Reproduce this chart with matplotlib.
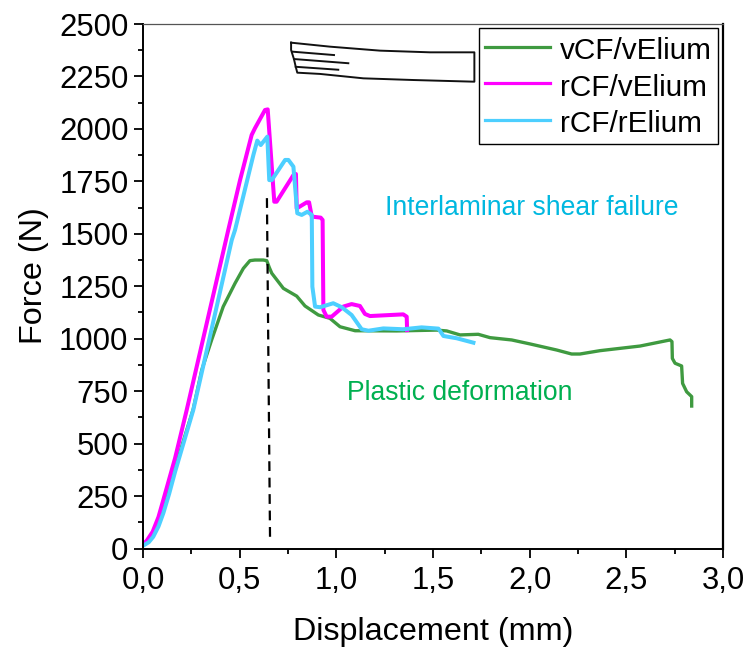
import matplotlib
matplotlib.use('Agg')
import matplotlib.pyplot as plt
from matplotlib.ticker import MultipleLocator, FuncFormatter

plt.rcParams['font.family'] = ['Liberation Sans', 'DejaVu Sans']

# curvas: deslocamento (mm) e força (N)
v_x = [0.0, 0.03, 0.053, 0.08, 0.105, 0.135, 0.166, 0.26, 0.304, 0.355, 0.415, 0.476, 0.519, 0.553, 0.579,
       0.622, 0.64, 0.653, 0.666, 0.726, 0.795,
       0.838, 0.907, 0.967, 1.019, 1.097, 1.312, 1.519, 1.571, 1.64, 1.734, 1.795, 1.907, 2.002, 2.14,
       2.217, 2.26, 2.364, 2.571, 2.726, 2.736, 2.738, 2.752, 2.786, 2.791, 2.812, 2.838, 2.838]
v_y = [15, 35, 65, 125, 190, 285, 385, 665, 851, 994, 1153, 1264, 1335, 1372, 1375,
       1375, 1372, 1340, 1312, 1240, 1203,
       1156, 1113, 1097, 1057, 1038, 1037, 1041, 1037, 1018, 1021, 1005, 994, 975, 946,
       927, 927, 943, 965, 994, 986, 906, 883, 870, 787, 747, 724, 679]

m_x = [0.0, 0.02, 0.05, 0.08, 0.105, 0.166, 0.226, 0.441, 0.502, 0.562, 0.579, 0.631, 0.645, 0.679, 0.691,
       0.778, 0.791, 0.795,
       0.847, 0.859, 0.873, 0.919, 0.929, 0.933, 0.95, 0.976, 1.036, 1.079, 1.122, 1.148, 1.174, 1.346,
       1.364, 1.366]
m_y = [20, 38, 80, 150, 231, 431, 660, 1518, 1756, 1971, 2003, 2090, 2093, 1653, 1653,
       1780, 1785, 1621,
       1650, 1650, 1582, 1577, 1566, 1137, 1105, 1105, 1153, 1165, 1156, 1118, 1108, 1116,
       1105, 1041]

c_x = [0.0, 0.03, 0.053, 0.08, 0.105, 0.135, 0.166, 0.26, 0.459, 0.476, 0.571, 0.591, 0.609, 0.643, 0.653, 0.666,
       0.735, 0.752, 0.778, 0.798, 0.821, 0.85, 0.873, 0.876, 0.89, 0.916, 0.984, 1.028, 1.079, 1.131, 1.166, 1.243,
       1.346, 1.441, 1.528, 1.554, 1.623, 1.709]
c_y = [13, 30, 56, 105, 168, 260, 366, 660, 1470, 1518, 1876, 1944, 1923, 1963, 1756, 1756,
       1852, 1852, 1820, 1598, 1590, 1605, 1590, 1248, 1153, 1150, 1169, 1150, 1113, 1045, 1038, 1049,
       1045, 1054, 1048, 1013, 1002, 981]

labels = ['vCF/vElium', 'rCF/vElium', 'rCF/rElium']
cores = ['#3F9A40', '#FF00FF', '#4DCFFF']
larguras = [2.4, 2.9, 2.9]

# linha tracejada
tr_x = [0.641, 0.657]
tr_y = [1670, 55]

# desenho do corpo de prova
sk_x = [0.766, 0.967, 1.226, 1.485, 1.714, 1.714, 1.398, 1.14, 0.916, 0.798, 0.79, 0.781, 0.766, 0.766]
sk_y = [2411, 2392, 2373, 2365, 2365, 2225, 2233, 2241, 2262, 2268, 2296, 2332, 2376, 2411]
del_x = [[0.774, 0.988], [0.781, 1.062], [0.79, 1.01]]
del_y = [[2368, 2352], [2333, 2313], [2296, 2282]]

fig = plt.figure(figsize=(7.47, 6.47), dpi=100)
ax = fig.add_axes([143 / 747, 1 - 548.5 / 647, 580 / 747, 524.5 / 647])

series = [(v_x, v_y), (m_x, m_y), (c_x, c_y)]
for (x, y), lab, cor, lw in zip(series, labels, cores, larguras):
    ax.plot(x, y, color=cor, lw=lw, label=lab, solid_joinstyle='round')

ax.plot(tr_x, tr_y, color='black', lw=1.6, dashes=(4.4, 3.0))
ax.plot(sk_x, sk_y, color='#111111', lw=1.4)
for x, y in zip(del_x, del_y):
    ax.plot(x, y, color='#111111', lw=1.4)

ax.text(1.25, 1625, 'Interlaminar shear failure', color='#00B8E0', fontsize=19.1, ha='left', va='center')
ax.text(1.055, 740, 'Plastic deformation', color='#00B050', fontsize=19.1, ha='left', va='center')

ax.set_xlim(0, 3)
ax.set_ylim(0, 2500)
ax.xaxis.set_major_locator(MultipleLocator(0.5))
ax.xaxis.set_minor_locator(MultipleLocator(0.25))
ax.yaxis.set_major_locator(MultipleLocator(250))
ax.yaxis.set_minor_locator(MultipleLocator(125))
ax.xaxis.set_major_formatter(FuncFormatter(lambda v, p: f'{v:.1f}'.replace('.', ',')))
ax.tick_params(which='major', direction='out', length=6.5, width=1.3, labelsize=22.4)
ax.tick_params(axis='x', which='major', pad=6)
ax.tick_params(axis='y', which='major', pad=4)
ax.tick_params(which='minor', direction='out', length=3.6, width=1.3)
ax.set_xlabel('Displacement (mm)', fontsize=23.3, labelpad=15)
ax.set_ylabel('Force (N)', fontsize=23.3, labelpad=7, y=0.52)

ax.spines['left'].set_linewidth(1.4)
ax.spines['bottom'].set_linewidth(1.4)
ax.spines['right'].set_linewidth(1.6)
ax.spines['top'].set_linewidth(0.9)
ax.spines['top'].set_color('#555555')

leg = ax.legend(loc='upper left', bbox_to_anchor=(0.579, 0.992), borderaxespad=0, frameon=True, fancybox=False,
                edgecolor='black', framealpha=1, fontsize=21.4, handlelength=2.2, handletextpad=0.33,
                handleheight=1.15, labelspacing=0.2, borderpad=0.2)
leg.get_frame().set_linewidth(1.0)
for h in leg.get_lines():
    h.set_linewidth(2.3)

fig.savefig('out.png', dpi=100)
